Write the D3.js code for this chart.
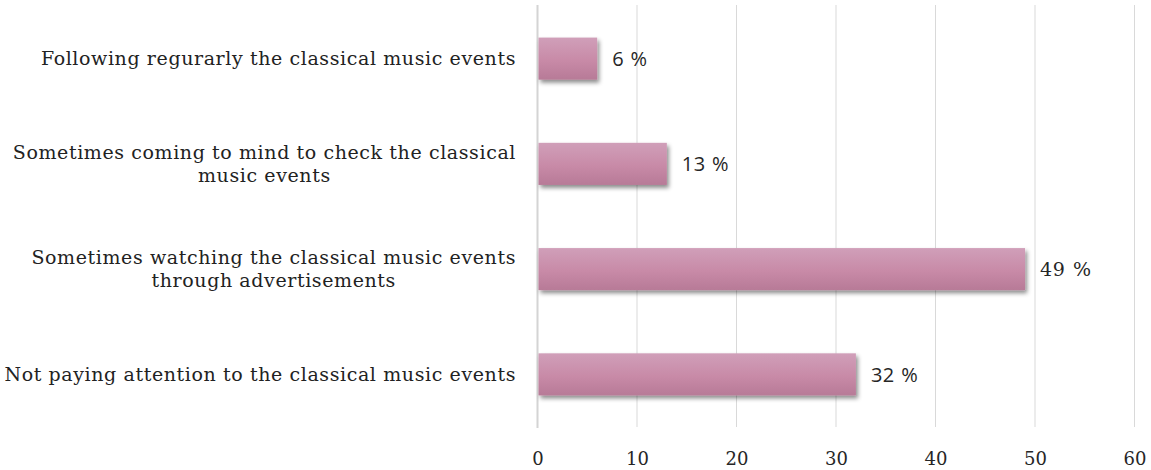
<!DOCTYPE html>
<html><head><meta charset="utf-8">
<script src="https://cdn.jsdelivr.net/npm/d3@7"></script>
<style>body{margin:0;background:#fff}svg{display:block}</style>
</head><body><div id="chart"></div>
<script>
const categories = [
  ["Following regurarly the classical music events"],
  ["Sometimes coming to mind to check the classical", "music events"],
  ["Sometimes watching the classical music events", "through advertisements"],
  ["Not paying attention to the classical music events"]
];
const values = [6, 13, 49, 32];
const valueLabels = ["6 %", "13 %", "49 %", "32 %"];
const xTicks = [0, 10, 20, 30, 40, 50, 60];

const W = 1151, H = 470;
const margin = {left: 537.5, right: 16.5, top: 6, bottom: 43};
const svg = d3.select("#chart").append("svg").attr("width", W).attr("height", H);

const defs = svg.append("defs");
const grad = defs.append("linearGradient").attr("id", "barGrad").attr("x1", 0).attr("y1", 0).attr("x2", 0).attr("y2", 1);
grad.append("stop").attr("offset", "0%").attr("stop-color", "#d09fb9");
grad.append("stop").attr("offset", "55%").attr("stop-color", "#c88aa7");
grad.append("stop").attr("offset", "100%").attr("stop-color", "#b77a97");
const f = defs.append("filter").attr("id", "shadow").attr("x", "-5%").attr("y", "-20%").attr("width", "115%").attr("height", "160%");
f.append("feDropShadow").attr("dx", 2).attr("dy", 3).attr("stdDeviation", 2).attr("flood-color", "#000").attr("flood-opacity", 0.45);

const x = d3.scaleLinear().domain([0, 60]).range([margin.left, W - margin.right]);
const y = d3.scaleBand().domain(d3.range(categories.length)).range([margin.top, H - margin.bottom]).paddingInner(0.6).paddingOuter(0.3);

// gridlines
svg.append("g").selectAll("line").data(xTicks.slice(1)).join("line")
  .attr("x1", d => x(d)).attr("x2", d => x(d))
  .attr("y1", margin.top - 1).attr("y2", H - margin.bottom)
  .attr("stroke", "#d9d9d9").attr("stroke-width", 1);
// zero axis
svg.append("line").attr("x1", x(0)).attr("x2", x(0)).attr("y1", margin.top - 1).attr("y2", H - margin.bottom + 1)
  .attr("stroke", "#d4d4d4").attr("stroke-width", 2);

// x axis labels
const xAxis = d3.axisBottom(x).tickValues(xTicks).tickSize(0).tickPadding(0).tickFormat(d3.format("d"));
const gx = svg.append("g").attr("transform", `translate(0,465)`).call(xAxis);
gx.select(".domain").remove();
gx.selectAll("text").attr("font-family", "DejaVu Serif").attr("font-size", 18).attr("fill", "#262626").attr("y", 0).attr("dy", 0);

// bars
svg.append("g").selectAll("rect").data(values).join("rect")
  .attr("x", x(0) + 1).attr("y", (d, i) => y(i))
  .attr("width", d => x(d) - x(0) - 1).attr("height", y.bandwidth())
  .attr("fill", "url(#barGrad)").attr("filter", "url(#shadow)");

// value labels
svg.append("g").selectAll("text").data(values).join("text")
  .attr("x", d => x(d) + 15).attr("y", (d, i) => y(i) + y.bandwidth() / 2)
  .attr("dy", "0.36em")
  .attr("font-family", (d, i) => i === 2 ? "DejaVu Serif" : "Open Sans")
  .attr("font-size", (d, i) => i === 2 ? 19 : 20)
  .attr("letter-spacing", (d, i) => i === 2 ? 0.6 : 0.4)
  .attr("word-spacing", 1)
  .attr("fill", "#262626")
  .text((d, i) => valueLabels[i]);

// category labels
const labelRight = 516;
const cg = svg.append("g");
categories.forEach((lines, i) => {
  const cy = y(i) + y.bandwidth() / 2;
  const lh = 23;
  const t = cg.append("text").attr("font-family", "DejaVu Serif").attr("font-size", 19)
    .attr("letter-spacing", 0.6).attr("fill", "#222");
  lines.forEach((ln, j) => {
    t.append("tspan").attr("y", cy + (j - (lines.length - 1) / 2) * lh).attr("dy", "0.35em").text(ln);
  });
  const widths = [];
  t.selectAll("tspan").each(function(){ widths.push(this.getComputedTextLength()); });
  const maxW = d3.max(widths);
  const center = labelRight - maxW / 2;
  t.attr("text-anchor", "middle").selectAll("tspan").attr("x", center);
});
</script></body></html>
